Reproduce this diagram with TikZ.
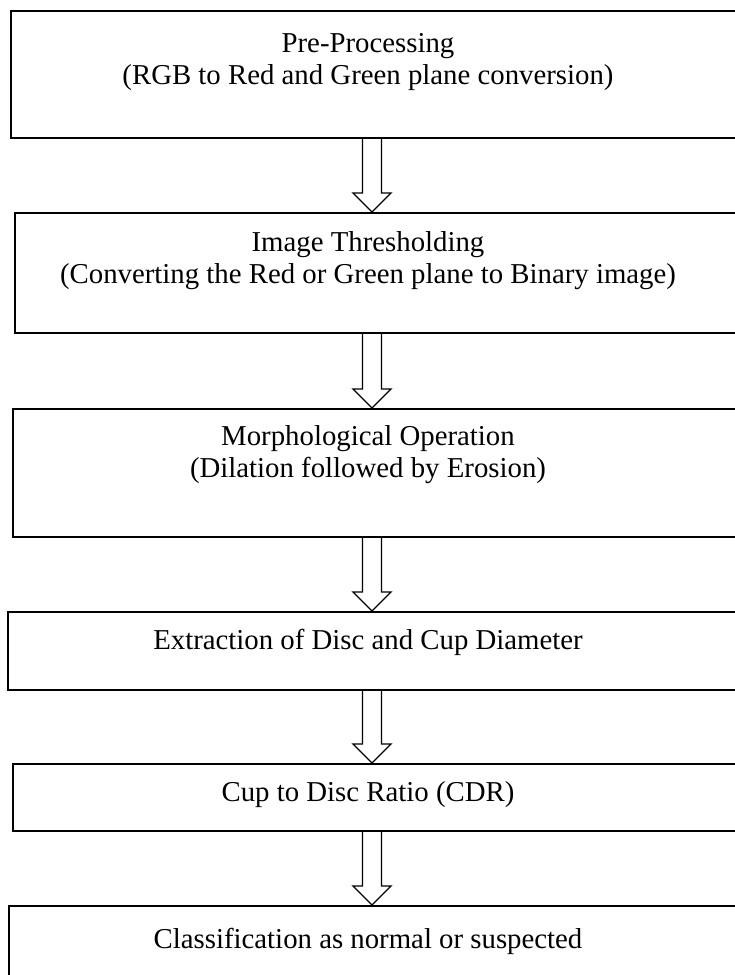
\documentclass[tikz,border=0pt]{standalone}
\usepackage{fontspec}
\setmainfont{Liberation Serif}
\usetikzlibrary{calc}
\newcommand\flowarrow[2]{%
  \draw[flow] ($(#1.south -| ax)+(-9.5,0)$) -- ($(#2.north -| ax)+(-9.5,-19)$)
    -- ($(#2.north -| ax)+(-19,-19)$) -- (#2.north -| ax)
    -- ($(#2.north -| ax)+(19,-19)$) -- ($(#2.north -| ax)+(9.5,-19)$)
    -- ($(#1.south -| ax)+(9.5,0)$);}
\begin{document}
\begin{tikzpicture}[x=1pt,y=-1pt,
  box/.style={draw, line width=1.6pt, rectangle, anchor=north west, inner sep=0pt, minimum width=740pt},
  lbl/.style={font=\fontsize{28.8}{32}\selectfont, align=center, inner sep=0pt},
  flow/.style={line width=1.3pt, line join=miter}]
\useasboundingbox (0,0) rectangle (735,975);
\clip (0,0) rectangle (735,975);
\fill[white] (0,0) rectangle (735,975);
\coordinate (ax) at (372,0);
\node[box, minimum height=127pt] (b1) at (10,10) {};
\node[box, minimum height=120pt] (b2) at (14,212) {};
\node[box, minimum height=128pt] (b3) at (12,408) {};
\node[box, minimum height=78pt] (b4) at (7,611) {};
\node[box, minimum height=67pt] (b5) at (12,763) {};
\node[box, minimum height=120pt] (b6) at (8,905) {};
\node[lbl] (t1) at (368,62) {Pre-Processing\\(RGB to Red and Green plane conversion)};
\node[lbl] (t2) at (368,261) {Image Thresholding\\(Converting the Red or Green plane to Binary image)};
\node[lbl] (t3) at (368,455) {Morphological Operation\\(Dilation followed by Erosion)};
\node[lbl] (t4) at (368,642) {Extraction of Disc and Cup Diameter};
\node[lbl] (t5) at (368,795) {Cup to Disc Ratio (CDR)};
\node[lbl] (t6) at (368,941) {Classification as normal or suspected};
\flowarrow{b1}{b2}
\flowarrow{b2}{b3}
\flowarrow{b3}{b4}
\flowarrow{b4}{b5}
\flowarrow{b5}{b6}
\end{tikzpicture}
\end{document}
